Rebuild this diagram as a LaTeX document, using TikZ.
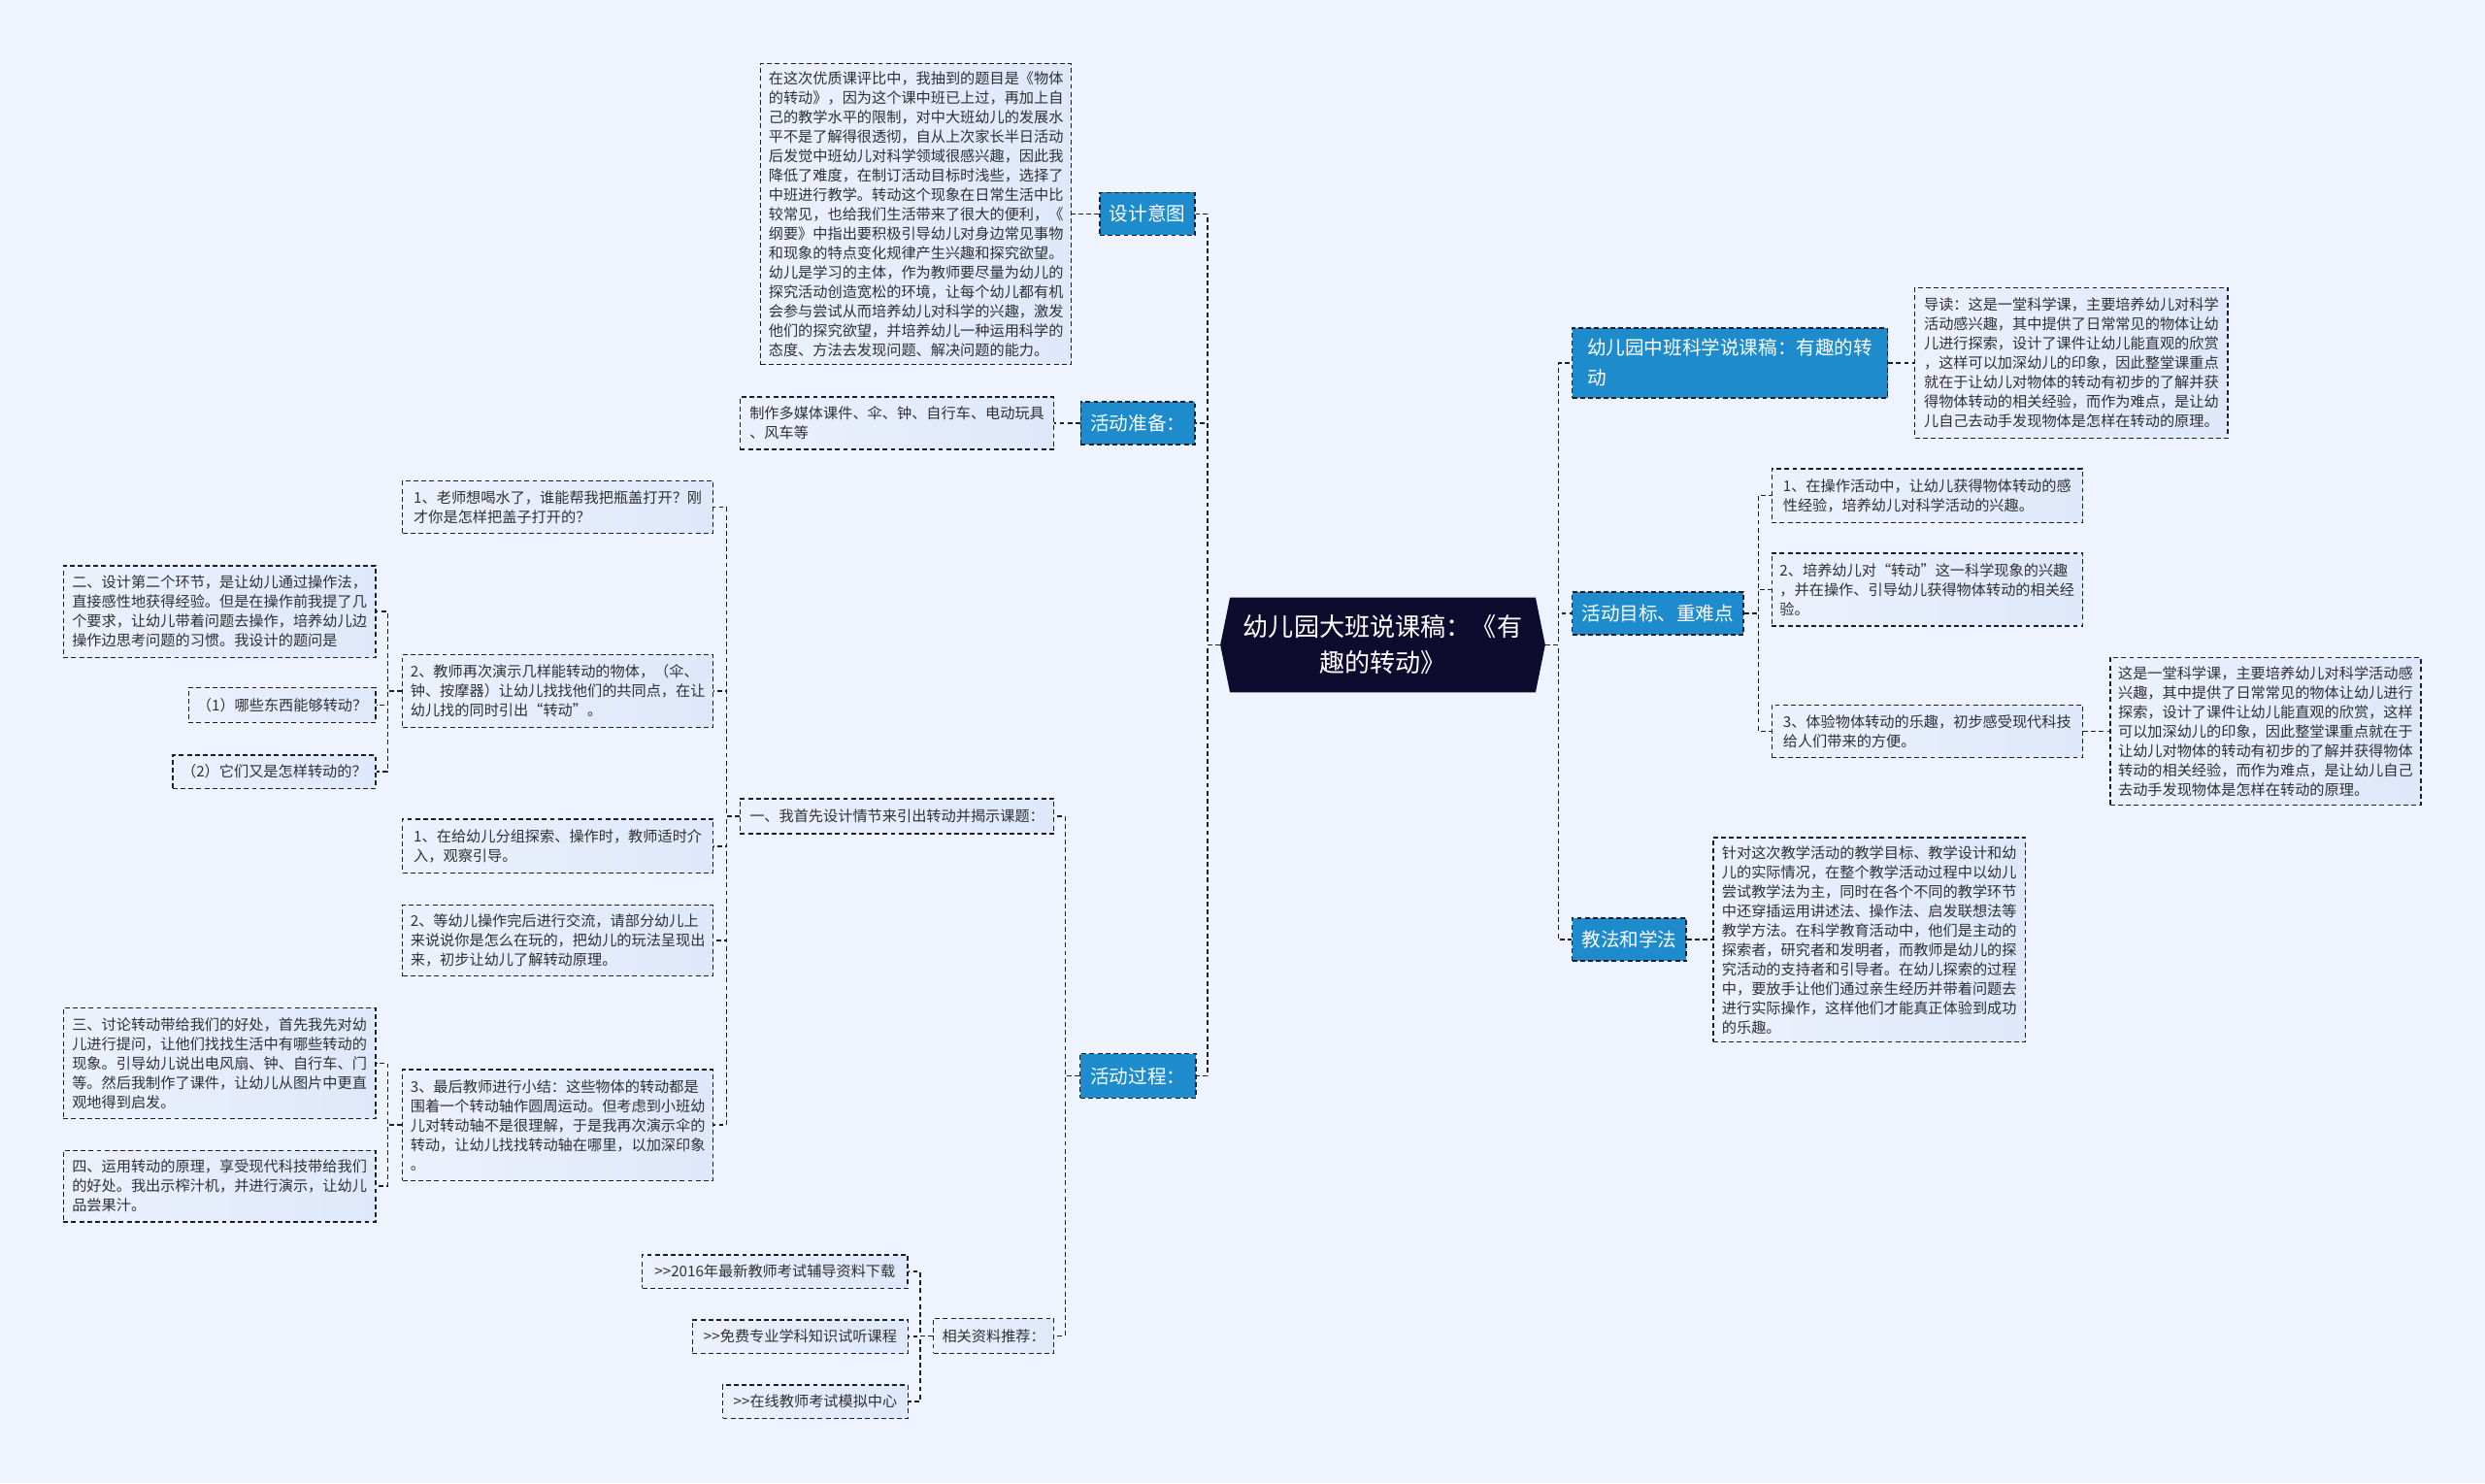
\documentclass[tikz,border=0pt]{standalone}
\usepackage{fontspec}
\newfontfamily\cjk{Noto Sans CJK SC}
\usetikzlibrary{shapes.symbols}
\definecolor{ZdBack}{RGB}{238,243,253}
\definecolor{ZdInk}{RGB}{24,30,48}
\definecolor{ZdText}{RGB}{48,48,52}
\definecolor{ZdBlue}{RGB}{30,139,205}
\definecolor{ZdNight}{RGB}{14,12,46}
\definecolor{ZdSoftA}{RGB}{236,241,252}
\definecolor{ZdSoftB}{RGB}{222,232,250}
\tikzset{
  zd/root/.style={
    signal,
    signal to=west and east,
    signal pointer angle=157,
    fill=ZdNight,
    text=white,
    align=center,
    inner sep=0pt,
    minimum width=205pt,
    minimum height=60pt,
    font=\cjk\fontsize{16}{22.7}\selectfont
  },
  zd/topic/.style={
    draw=ZdInk,
    line width=0.9pt,
    dash pattern=on 3pt off 2pt,
    fill=ZdBlue,
    text=white,
    align=left,
    inner xsep=5pt,
    inner ysep=3pt,
    font=\cjk\fontsize{12}{19}\selectfont
  },
  zd/note/.style={
    draw=ZdInk,
    line width=0.9pt,
    dash pattern=on 3pt off 2pt,
    left color=ZdSoftA,
    right color=ZdSoftB,
    text=ZdText,
    align=left,
    inner xsep=4pt,
    inner ysep=3pt,
    font=\cjk\fontsize{9.3}{12.25}\selectfont
  },
  zd/link/.style={draw=ZdInk, line width=0.9pt, dash pattern=on 3pt off 2pt}
}

\begin{document}
\begin{tikzpicture}[x=1pt,y=-1pt]
  \useasboundingbox (0,0) rectangle (1568,936);
  \fill[ZdBack] (0,0) rectangle (1568,936);

  \node[zd/root] (root) at (872.5,407) {幼儿园大班说课稿：《有\\趣的转动》};

  \node[zd/topic, minimum width=60pt, minimum height=27pt] (plan) at (724,135) {设计意图};
  \node[zd/topic, minimum width=72pt, minimum height=27pt] (prep) at (718,267) {活动准备：};
  \node[zd/topic, minimum width=73pt, minimum height=28pt] (proc) at (718,679) {活动过程：};
  \node[zd/topic, minimum width=199pt, minimum height=44pt] (intro) at (1091.5,229) {幼儿园中班科学说课稿：有趣的转\\动};
  \node[zd/topic, minimum width=108pt, minimum height=27pt] (goal) at (1046,387) {活动目标、重难点};
  \node[zd/topic, minimum width=72pt, minimum height=27pt] (meth) at (1028,593) {教法和学法};

  \node[zd/note, minimum width=196pt, minimum height=190pt] (plannote) at (578,135) {在这次优质课评比中，我抽到的题目是《物体\\的转动》，因为这个课中班已上过，再加上自\\己的教学水平的限制，对中大班幼儿的发展水\\平不是了解得很透彻，自从上次家长半日活动\\后发觉中班幼儿对科学领域很感兴趣，因此我\\降低了难度，在制订活动目标时浅些，选择了\\中班进行教学。转动这个现象在日常生活中比\\较常见，也给我们生活带来了很大的便利，《\\纲要》中指出要积极引导幼儿对身边常见事物\\和现象的特点变化规律产生兴趣和探究欲望。\\幼儿是学习的主体，作为教师要尽量为幼儿的\\探究活动创造宽松的环境，让每个幼儿都有机\\会参与尝试从而培养幼儿对科学的兴趣，激发\\他们的探究欲望，并培养幼儿一种运用科学的\\态度、方法去发现问题、解决问题的能力。};
  \node[zd/note, minimum width=198pt, minimum height=33pt] (prepnote) at (566,267) {制作多媒体课件、伞、钟、自行车、电动玩具\\、风车等};

  \node[zd/note, minimum width=198pt, minimum height=22pt] (first) at (566,515) {一、我首先设计情节来引出转动并揭示课题：};
  \node[zd/note, minimum width=196pt, minimum height=33pt] (q1) at (352,320) {1、老师想喝水了，谁能帮我把瓶盖打开？刚\\才你是怎样把盖子打开的？};
  \node[zd/note, minimum width=196pt, minimum height=46pt] (q2) at (352,436) {2、教师再次演示几样能转动的物体，（伞、\\钟、按摩器）让幼儿找找他们的共同点，在让\\幼儿找的同时引出“转动”。};
  \node[zd/note, minimum width=197pt, minimum height=58pt] (q2a) at (138.5,386) {二、设计第二个环节，是让幼儿通过操作法，\\直接感性地获得经验。但是在操作前我提了几\\个要求，让幼儿带着问题去操作，培养幼儿边\\操作边思考问题的习惯。我设计的题问是};
  \node[zd/note, minimum width=118pt, minimum height=22pt] (q2b) at (178,445) {（1）哪些东西能够转动？};
  \node[zd/note, minimum width=128pt, minimum height=21pt] (q2c) at (173,487) {（2）它们又是怎样转动的？};
  \node[zd/note, minimum width=196pt, minimum height=34pt] (q3) at (352,534) {1、在给幼儿分组探索、操作时，教师适时介\\入，观察引导。};
  \node[zd/note, minimum width=196pt, minimum height=45pt] (q4) at (352,593.5) {2、等幼儿操作完后进行交流，请部分幼儿上\\来说说你是怎么在玩的，把幼儿的玩法呈现出\\来，初步让幼儿了解转动原理。};
  \node[zd/note, minimum width=196pt, minimum height=70pt] (q5) at (352,710) {3、最后教师进行小结：这些物体的转动都是\\围着一个转动轴作圆周运动。但考虑到小班幼\\儿对转动轴不是很理解，于是我再次演示伞的\\转动，让幼儿找找转动轴在哪里，以加深印象\\。};
  \node[zd/note, minimum width=197pt, minimum height=70pt] (q5a) at (138.5,671) {三、讨论转动带给我们的好处，首先我先对幼\\儿进行提问，让他们找找生活中有哪些转动的\\现象。引导幼儿说出电风扇、钟、自行车、门\\等。然后我制作了课件，让幼儿从图片中更直\\观地得到启发。};
  \node[zd/note, minimum width=197pt, minimum height=45pt] (q5b) at (138.5,748.5) {四、运用转动的原理，享受现代科技带给我们\\的好处。我出示榨汁机，并进行演示，让幼儿\\品尝果汁。};

  \node[zd/note, minimum width=76pt, minimum height=22pt] (res) at (627,843) {相关资料推荐：};
  \node[zd/note, minimum width=167.5pt, minimum height=21pt] (res1) at (489,802.5) {>>2016年最新教师考试辅导资料下载};
  \node[zd/note, minimum width=136pt, minimum height=21pt] (res2) at (505,843.5) {>>免费专业学科知识试听课程};
  \node[zd/note, minimum width=117pt, minimum height=21pt] (res3) at (514.5,884.5) {>>在线教师考试模拟中心};

  \node[zd/note, minimum width=197.5pt, minimum height=95pt] (intronote) at (1307,229) {导读：这是一堂科学课，主要培养幼儿对科学\\活动感兴趣，其中提供了日常常见的物体让幼\\儿进行探索，设计了课件让幼儿能直观的欣赏\\，这样可以加深幼儿的印象，因此整堂课重点\\就在于让幼儿对物体的转动有初步的了解并获\\得物体转动的相关经验，而作为难点，是让幼\\儿自己去动手发现物体是怎样在转动的原理。};
  \node[zd/note, minimum width=196pt, minimum height=34pt] (g1) at (1216,312.8) {1、在操作活动中，让幼儿获得物体转动的感\\性经验，培养幼儿对科学活动的兴趣。};
  \node[zd/note, minimum width=196pt, minimum height=46pt] (g2) at (1216,372) {2、培养幼儿对“转动”这一科学现象的兴趣\\，并在操作、引导幼儿获得物体转动的相关经\\验。};
  \node[zd/note, minimum width=196pt, minimum height=33pt] (g3) at (1216,461.5) {3、体验物体转动的乐趣，初步感受现代科技\\给人们带来的方便。};
  \node[zd/note, minimum width=196pt, minimum height=93pt] (g3note) at (1429.5,461.5) {这是一堂科学课，主要培养幼儿对科学活动感\\兴趣，其中提供了日常常见的物体让幼儿进行\\探索，设计了课件让幼儿能直观的欣赏，这样\\可以加深幼儿的印象，因此整堂课重点就在于\\让幼儿对物体的转动有初步的了解并获得物体\\转动的相关经验，而作为难点，是让幼儿自己\\去动手发现物体是怎样在转动的原理。};
  \node[zd/note, minimum width=197pt, minimum height=129pt] (methnote) at (1179.5,593) {针对这次教学活动的教学目标、教学设计和幼\\儿的实际情况，在整个教学活动过程中以幼儿\\尝试教学法为主，同时在各个不同的教学环节\\中还穿插运用讲述法、操作法、启发联想法等\\教学方法。在科学教育活动中，他们是主动的\\探索者，研究者和发明者，而教师是幼儿的探\\究活动的支持者和引导者。在幼儿探索的过程\\中，要放手让他们通过亲生经历并带着问题去\\进行实际操作，这样他们才能真正体验到成功\\的乐趣。};

  \draw[zd/link] (root.west) -- ++(-8,0) |- (plan.east);
  \draw[zd/link] (root.west) -- ++(-8,0) |- (prep.east);
  \draw[zd/link] (root.west) -- ++(-8,0) |- (proc.east);
  \draw[zd/link] (root.east) -- ++(8,0) |- (intro.west);
  \draw[zd/link] (root.east) -- ++(8,0) |- (goal.west);
  \draw[zd/link] (root.east) -- ++(8,0) |- (meth.west);

  \draw[zd/link] (plan.west) -- (plannote.east);
  \draw[zd/link] (prep.west) -- (prepnote.east);
  \draw[zd/link] (intro.east) -- (intronote.west);
  \draw[zd/link] (meth.east) -- (methnote.west);

  \draw[zd/link] (proc.west) -- ++(-9,0) |- (first.east);
  \draw[zd/link] (proc.west) -- ++(-9,0) |- (res.east);

  \draw[zd/link] (first.west) -- ++(-8,0) |- (q1.east);
  \draw[zd/link] (first.west) -- ++(-8,0) |- (q2.east);
  \draw[zd/link] (first.west) -- ++(-8,0) |- (q3.east);
  \draw[zd/link] (first.west) -- ++(-8,0) |- (q4.east);
  \draw[zd/link] (first.west) -- ++(-8,0) |- (q5.east);

  \draw[zd/link] (q2.west) -- ++(-9,0) |- (q2a.east);
  \draw[zd/link] (q2.west) -- ++(-9,0) |- (q2b.east);
  \draw[zd/link] (q2.west) -- ++(-9,0) |- (q2c.east);
  \draw[zd/link] (q5.west) -- ++(-9,0) |- (q5a.east);
  \draw[zd/link] (q5.west) -- ++(-9,0) |- (q5b.east);

  \draw[zd/link] (res.west) -- ++(-8,0) |- (res1.east);
  \draw[zd/link] (res.west) -- ++(-8,0) |- (res2.east);
  \draw[zd/link] (res.west) -- ++(-8,0) |- (res3.east);

  \draw[zd/link] (goal.east) -- ++(9,0) |- (g1.west);
  \draw[zd/link] (goal.east) -- ++(9,0) |- (g2.west);
  \draw[zd/link] (goal.east) -- ++(9,0) |- (g3.west);
  \draw[zd/link] (g3.east) -- (g3note.west);
\end{tikzpicture}
\end{document}
